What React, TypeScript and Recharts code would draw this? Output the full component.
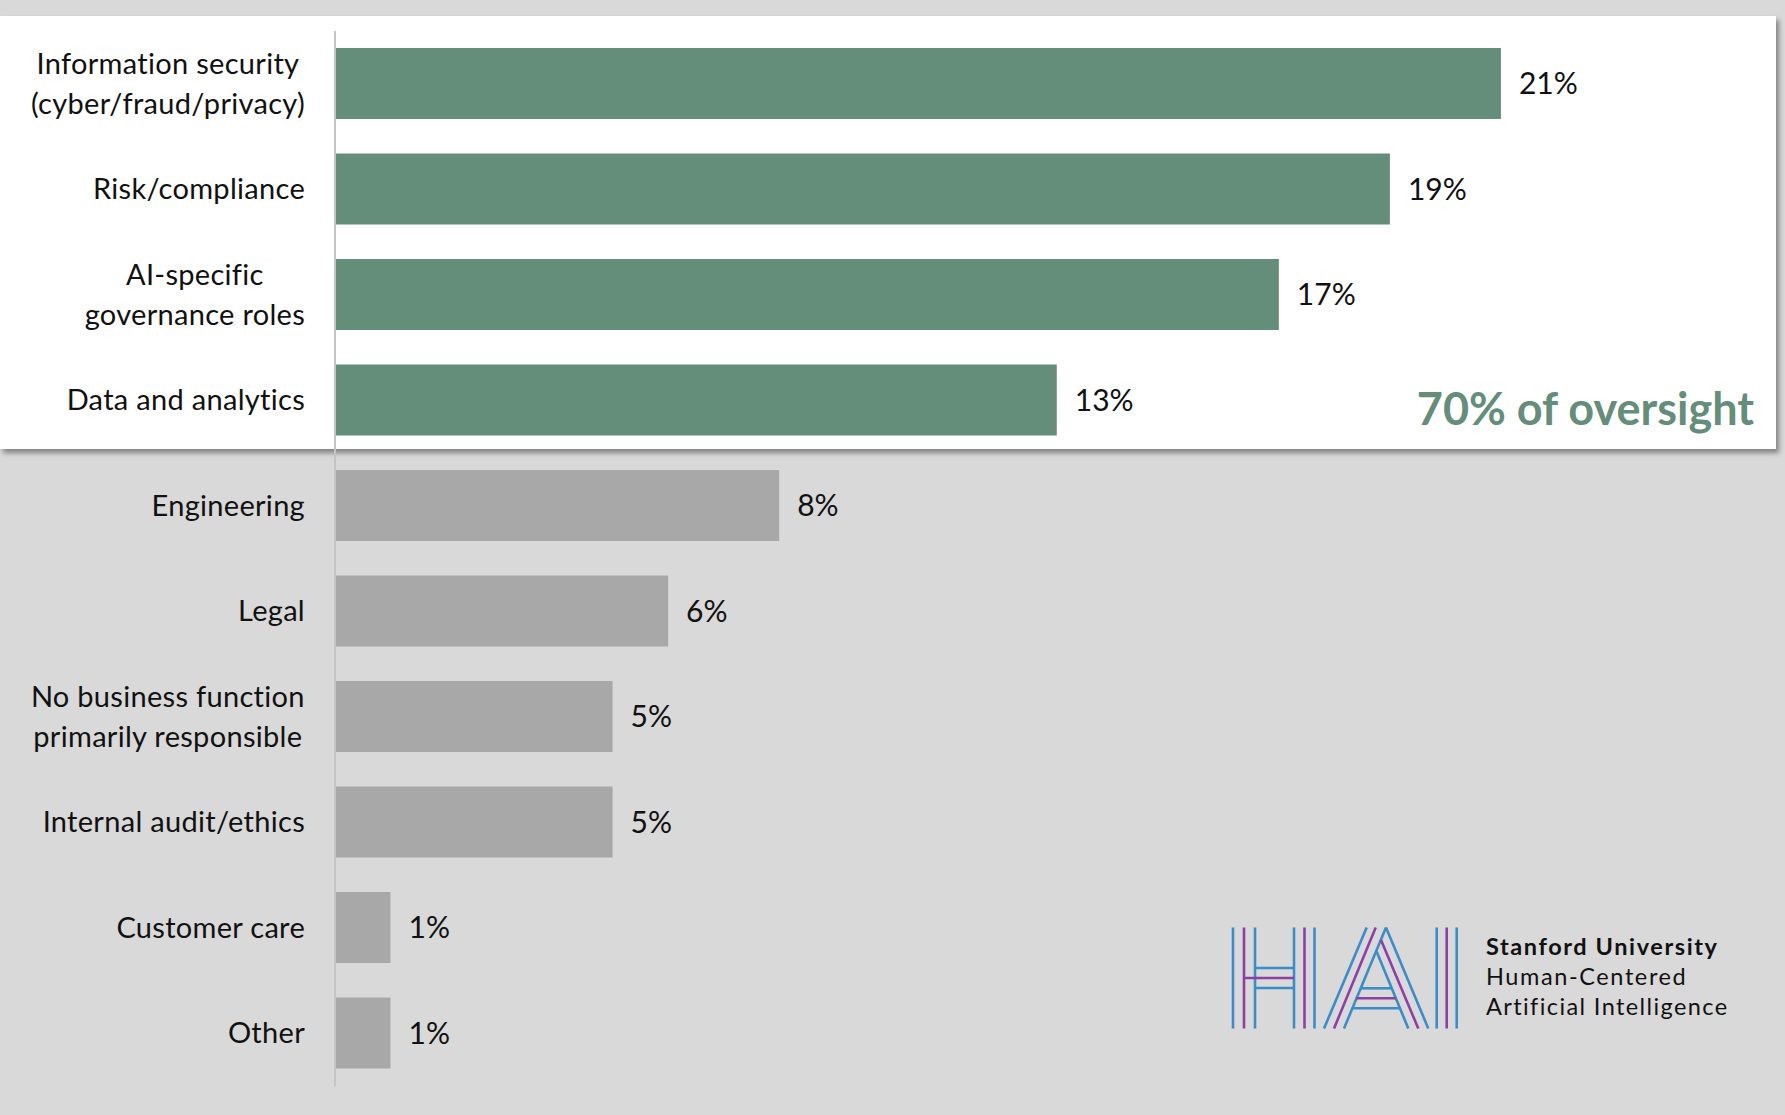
import React from "react";
import { BarChart, Bar, XAxis, YAxis, Cell, LabelList } from "recharts";

const categories = [
  "Information security\n(cyber/fraud/privacy)",
  "Risk/compliance",
  "AI-specific\ngovernance roles",
  "Data and analytics",
  "Engineering",
  "Legal",
  "No business function\nprimarily responsible",
  "Internal audit/ethics",
  "Customer care",
  "Other",
];
const shares = [21, 19, 17, 13, 8, 6, 5, 5, 1, 1];
const groups = [
  "oversight",
  "oversight",
  "oversight",
  "oversight",
  "other",
  "other",
  "other",
  "other",
  "other",
  "other",
];
const groupColors: Record<string, string> = { oversight: "#648D7A", other: "#A8A8A8" };
const xDomain = [0, 25];
const annotation = "70% of oversight";
const logoText = ["Stanford University", "Human-Centered", "Artificial Intelligence"];

const data = categories.map((c, i) => ({ category: c, share: shares[i], group: groups[i] }));

const FONT = "Lato, 'Noto Sans', sans-serif";
const LABEL_SIZE = 29;
const LABEL_SPACING = 0.3;
const VALUE_SIZE = 30;

let canvasCtx: CanvasRenderingContext2D | null = null;
function measure(text: string, font: string) {
  if (!canvasCtx) {
    const c = document.createElement("canvas");
    canvasCtx = c.getContext("2d");
  }
  if (!canvasCtx) return text.length * 14;
  canvasCtx.font = font;
  return canvasCtx.measureText(text).width + text.length * LABEL_SPACING;
}

const CategoryTick = (props: any) => {
  const { x, y, payload } = props;
  const lines: string[] = String(payload.value).split("\n");
  if (lines.length === 1) {
    return (
      <text
        x={x}
        y={y}
        dy="0.35em"
        textAnchor="end"
        fontSize={LABEL_SIZE}
        fontFamily={FONT}
        letterSpacing={LABEL_SPACING}
        fill="#111"
      >
        {lines[0]}
      </text>
    );
  }
  const widths = lines.map((l) => measure(l, `${LABEL_SIZE}px Lato`));
  const maxW = Math.max(...widths);
  const cx = x - maxW / 2;
  const lineH = 40;
  const start = -((lines.length - 1) * lineH) / 2;
  return (
    <g>
      {lines.map((l, i) => (
        <text
          key={i}
          x={cx}
          y={y + start + i * lineH}
          dy="0.35em"
          textAnchor="middle"
          fontSize={LABEL_SIZE}
          fontFamily={FONT}
          letterSpacing={LABEL_SPACING}
          fill="#111"
        >
          {l}
        </text>
      ))}
    </g>
  );
};

const BLUE = "#3A8DC8";
const PURPLE = "#8E3FA6";

const Logo = () => {
  const top = 927.5;
  const bot = 1028.5;
  const sw = 2.6;
  const vlines = [
    [1233, BLUE],
    [1244, PURPLE],
    [1255, BLUE],
    [1294, BLUE],
    [1304.5, PURPLE],
    [1314.5, BLUE],
    [1436.7, BLUE],
    [1446.7, PURPLE],
    [1456.7, BLUE],
  ] as [number, string][];
  const segs = [
    [1324, bot, 1366.7, top, BLUE],
    [1334, bot, 1375.7, top, PURPLE],
    [1344, bot, 1386, top, BLUE],
    [1386, top, 1428.3, bot, BLUE],
    [1381, 940, 1418.3, bot, PURPLE],
    [1376.7, 951.7, 1408.3, bot, BLUE],
    [1360.7, 988.3, 1391.7, 988.3, BLUE],
    [1356.3, 998.3, 1396, 998.3, PURPLE],
    [1352.3, 1008.3, 1400, 1008.3, BLUE],
    [1255, 968, 1294, 968, BLUE],
    [1244, 978, 1294, 978, PURPLE],
    [1255, 988, 1294, 988, BLUE],
  ] as [number, number, number, number, string][];
  const ls = 1.6;
  return (
    <g>
      {vlines.map(([x, c], i) => (
        <line key={"v" + i} x1={x} x2={x} y1={top} y2={bot} stroke={c} strokeWidth={sw} />
      ))}
      {segs.map(([x1, y1, x2, y2, c], i) => (
        <line key={"s" + i} x1={x1} y1={y1} x2={x2} y2={y2} stroke={c} strokeWidth={sw} />
      ))}
      <text x={1486} y={955} fontFamily={FONT} fontWeight={700} fontSize={23.5} letterSpacing={ls} fill="#111">
        {logoText[0]}
      </text>
      <text x={1486} y={985} fontFamily={FONT} fontSize={23.5} letterSpacing={ls} fill="#111">
        {logoText[1]}
      </text>
      <text x={1486} y={1015} fontFamily={FONT} fontSize={23.5} letterSpacing={1.4} fill="#111">
        {logoText[2]}
      </text>
    </g>
  );
};

export default function App() {
  return (
    <div
      style={{
        position: "absolute",
        left: 0,
        top: 0,
        width: 1785,
        height: 1115,
        background: "#D9D9D9",
        overflow: "hidden",
      }}
    >
      <div
        style={{
          position: "absolute",
          left: 0,
          top: 16,
          width: 1776,
          height: 433,
          background: "#FFFFFF",
          boxShadow: "3px 4px 5px rgba(0,0,0,0.4)",
        }}
      />
      <div style={{ position: "absolute", left: 0, top: 0 }}>
        <BarChart
          width={1785}
          height={1115}
          data={data}
          layout="vertical"
          margin={{ top: 31, right: 62, bottom: 29, left: 0 }}
          barSize={71}
        >
          <XAxis type="number" hide domain={xDomain} />
          <YAxis
            type="category"
            dataKey="category"
            width={335}
            tickSize={0}
            tickMargin={30}
            tickLine={false}
            axisLine={{ stroke: "#C4C4C4", strokeWidth: 2 }}
            interval={0}
            tick={<CategoryTick />}
          />
          <Bar dataKey="share" isAnimationActive={false}>
            {data.map((d, i) => (
              <Cell key={i} fill={groupColors[d.group]} />
            ))}
            <LabelList
              dataKey="share"
              position="right"
              offset={18}
              formatter={(v: any) => `${v}%`}
              fill="#111"
              fontSize={VALUE_SIZE}
              fontFamily={FONT}
            />
          </Bar>
        </BarChart>
      </div>
      <svg
        width={1785}
        height={1115}
        style={{ position: "absolute", left: 0, top: 0, pointerEvents: "none" }}
      >
        <text
          x={1754}
          y={425}
          textAnchor="end"
          fontFamily={FONT}
          fontWeight={700}
          fontSize={45}
          fill={groupColors.oversight}
        >
          {annotation}
        </text>
        <Logo />
      </svg>
    </div>
  );
}
